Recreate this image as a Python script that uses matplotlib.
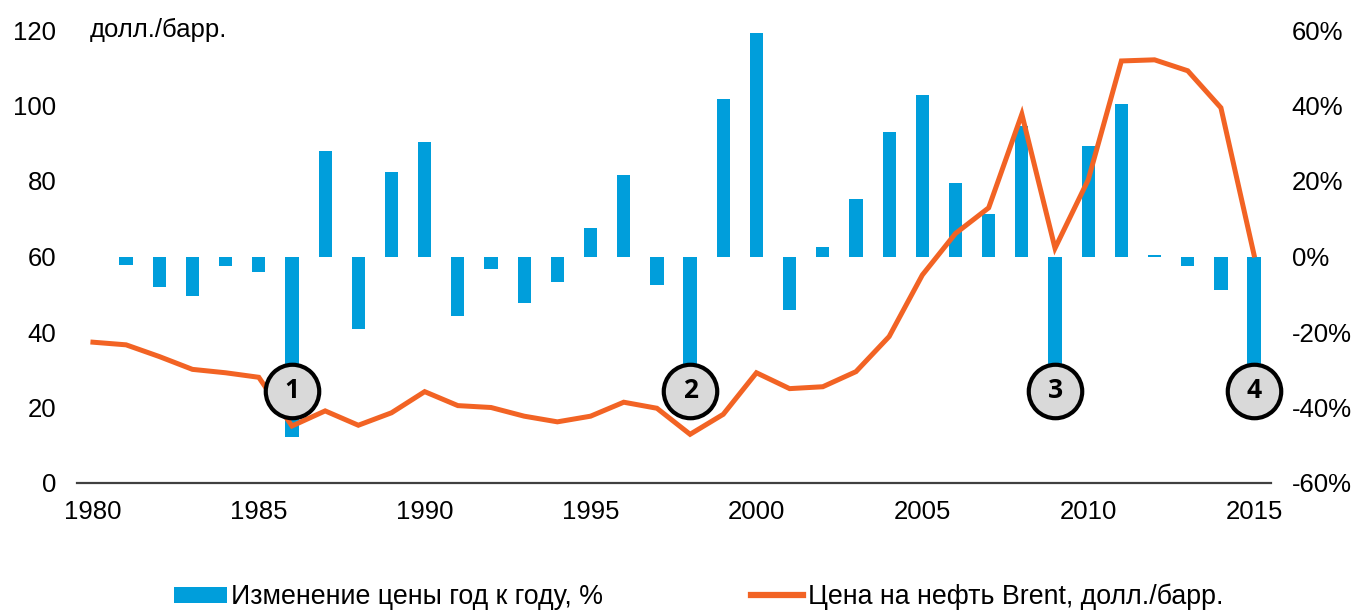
import matplotlib
matplotlib.use("Agg")
import matplotlib.pyplot as plt
from matplotlib.patches import Patch
from matplotlib.lines import Line2D

plt.rcParams['font.family'] = ['Liberation Sans', 'DejaVu Sans']

# ---- data ----
price_years = list(range(1980, 2016))
brent_price = [37.3, 36.6, 33.5, 30.1, 29.2, 28.0, 15.1, 19.1, 15.3, 18.6,
               24.2, 20.5, 20.0, 17.7, 16.2, 17.7, 21.4, 19.8, 12.9, 18.2,
               29.2, 25.0, 25.5, 29.5, 38.8, 55.1, 66.1, 72.9, 97.7, 62.2,
               80.3, 111.8, 112.1, 109.2, 99.4, 60.4]

change_years = list(range(1981, 2016))
yoy_change = [-2.2, -8.2, -10.4, -2.5, -4.2, -47.8, 28.0, -19.1, 22.3, 30.4,
              -15.7, -3.4, -12.3, -6.7, 7.6, 21.6, -7.6, -33.0, 41.6, 59.1,
              -14.2, 2.4, 15.3, 33.1, 42.7, 19.6, 11.2, 34.6, -36.0, 29.2,
              40.3, 0.4, -2.6, -8.8, -42.0]

event_years = [1986, 1998, 2009, 2015]
event_labels = ['1', '2', '3', '4']
event_level = 24.4  # price-axis level of the numbered markers

x_ticks = [1980, 1985, 1990, 1995, 2000, 2005, 2010, 2015]
price_ticks = [0, 20, 40, 60, 80, 100, 120]
pct_ticks = [-60, -40, -20, 0, 20, 40, 60]

bar_label = 'Изменение цены год к году, %'
line_label = 'Цена на нефть Brent, долл./барр.'
unit_label = 'долл./барр.'

BLUE = '#009EDB'
ORANGE = '#F26324'
FS = 18.5

fig = plt.figure(figsize=(13.57, 6.10), dpi=100)
ax = fig.add_axes([77/1357, 1-483/610, (1271-77)/1357, (483-30)/610])

# bars on percentage axis (labels on right)
ax.bar(change_years, yoy_change, width=0.4, color=BLUE, zorder=2)
ax.set_ylim(-60, 60)
ax.set_xlim(1979.52, 2015.51)

# price line on left axis
ax2 = ax.twinx()

ax.yaxis.tick_right()
ax.yaxis.set_label_position('right')
ax.set_yticks(pct_ticks)
ax.set_yticklabels([f'{t}%' for t in pct_ticks])
ax.set_xticks(x_ticks)
ax.set_xticklabels([str(t) for t in x_ticks])
ax.tick_params(axis='both', length=0, labelsize=FS, colors='black')
ax.tick_params(axis='y', pad=15)
ax.tick_params(axis='x', pad=12)
for s in ['top', 'left', 'right']:
    ax.spines[s].set_visible(False)
ax.spines['bottom'].set_color('#404040')
ax.spines['bottom'].set_linewidth(1.6)

ax2.yaxis.tick_left()
ax2.yaxis.set_label_position('left')
ax2.set_ylim(0, 120)
ax2.set_yticks(price_ticks)
ax2.set_yticklabels([str(t) for t in price_ticks])
ax2.tick_params(axis='y', length=0, labelsize=FS, pad=15, colors='black')
for s in ax2.spines.values():
    s.set_visible(False)
ax2.plot(price_years, brent_price, color=ORANGE, lw=3.6, solid_joinstyle='miter', zorder=3)

# numbered event markers
ax2.plot(event_years, [event_level]*len(event_years), linestyle='none', marker='o',
         markersize=38.5, markerfacecolor='#D9D9D9', markeredgecolor='black',
         markeredgewidth=3.0, zorder=5, clip_on=False)
for yr, lab in zip(event_years, event_labels):
    ax2.text(yr, event_level, lab, ha='center', va='center', fontsize=19,
             fontweight='bold', family=['Open Sans', 'DejaVu Sans'], zorder=6)

ax2.text(0.011, 1.0, unit_label, transform=ax2.transAxes, ha='left', va='center',
         fontsize=FS)

handles = [Patch(facecolor=BLUE, edgecolor='none', label=bar_label),
           Line2D([0], [0], color=ORANGE, lw=4.5, label=line_label)]
leg = fig.legend(handles=handles, loc='center', bbox_to_anchor=(0.515, 1-597/610),
                 ncol=2, frameon=False, handlelength=1.95, handletextpad=0.18,
                 columnspacing=5.5, handleheight=0.55,
                 prop={'family': ['Liberation Sans', 'DejaVu Sans'], 'size': 19.3})

fig.savefig('out.png', dpi=100)
